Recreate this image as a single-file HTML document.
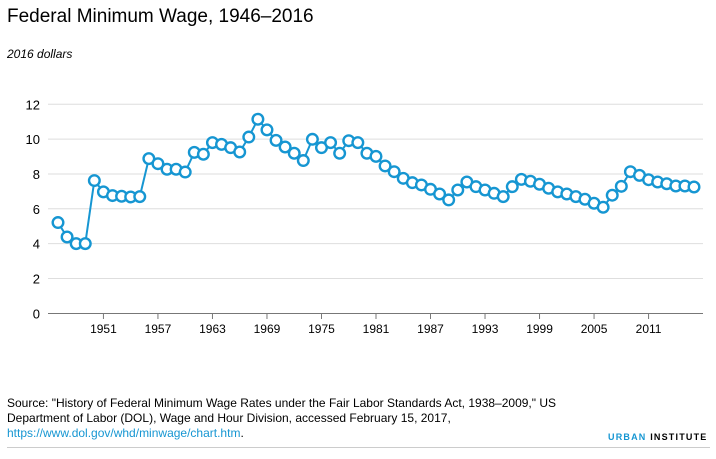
<!DOCTYPE html>
<html><head><meta charset="utf-8"><style>
body{margin:0;background:#fff;font-family:"Liberation Sans",sans-serif;}
#wrap{position:relative;width:716px;height:459px;overflow:hidden}
.t{position:absolute;white-space:nowrap}
</style></head><body>
<div id="wrap">
<div class="t" style="left:7px;top:6px;font-size:19px;color:#000">Federal Minimum Wage, 1946–2016</div>
<div class="t" style="left:7px;top:47px;font-size:12px;font-style:italic;color:#000">2016 dollars</div>
<svg id="chart" width="716" height="459" style="position:absolute;left:0;top:0"></svg>
<div class="t" style="left:7px;top:396px;font-size:12px;line-height:15px;color:#000;letter-spacing:0px">Source: "History of Federal Minimum Wage Rates under the Fair Labor Standards Act, 1938–2009," US<br>Department of Labor (DOL), Wage and Hour Division, accessed February 15, 2017,<br><a style="color:#1696d2;text-decoration:none">https://www.dol.gov/whd/minwage/chart.htm</a>.</div>
<div class="t" style="left:608px;top:432px;font-size:9px;font-weight:bold;letter-spacing:1.2px"><span style="color:#1696d2">URBAN</span> <span style="color:#000">INSTITUTE</span></div>
<div style="position:absolute;left:7px;top:447px;width:703px;height:1px;background:#ccc"></div>
</div>
<script>
const years=[];for(let y=1946;y<=2016;y++)years.push(y);
const wages=[5.21,4.38,4.0,4.0,7.62,6.97,6.76,6.72,6.68,6.70,8.88,8.59,8.27,8.27,8.11,9.24,9.13,9.80,9.70,9.51,9.26,10.12,11.14,10.53,9.93,9.55,9.19,8.77,9.99,9.51,9.80,9.19,9.91,9.80,9.19,9.01,8.46,8.13,7.75,7.50,7.37,7.12,6.85,6.51,7.08,7.54,7.27,7.08,6.89,6.70,7.27,7.69,7.58,7.41,7.18,6.97,6.85,6.70,6.55,6.32,6.09,6.78,7.29,8.13,7.92,7.67,7.54,7.44,7.31,7.31,7.25];
const yTicks=[0,2,4,6,8,10,12];
const xTicks=[1951,1957,1963,1969,1975,1981,1987,1993,1999,2005,2011];
const NS='http://www.w3.org/2000/svg';
const svg=document.getElementById('chart');
const x=v=>58+(v-1946)*(694-58)/70;
const y=v=>313.3-v*(313.3-104.3)/12;
function mk(t,a){const e=document.createElementNS(NS,t);for(const k in a)e.setAttribute(k,a[k]);svg.appendChild(e);return e;}
yTicks.forEach(v=>{
  if(v>0){const g=mk('line',{x1:48,x2:703,y1:y(v),y2:y(v),stroke:'#dedede','stroke-width':1});
  
  }
  const t=mk('text',{x:40,y:y(v)+5,'text-anchor':'end','font-size':13,fill:'#000','font-family':'Liberation Sans, sans-serif'});
  t.textContent=v;
  
  
});
const ax=mk('line',{x1:48,x2:703,y1:313.5,y2:313.5,stroke:'#777','stroke-width':1});


xTicks.forEach(v=>{
  const tk=mk('line',{x1:x(v),x2:x(v),y1:313.5,y2:319,stroke:'#777','stroke-width':1});
  
  
  const t=mk('text',{x:x(v),y:333,'text-anchor':'middle','font-size':12,fill:'#000','font-family':'Liberation Sans, sans-serif'});
  t.textContent=v;
  
  
});
const line=mk('polyline',{points:years.map((yr,i)=>x(yr)+','+y(wages[i])).join(' '),fill:'none',stroke:'#1696d2','stroke-width':2});


years.forEach((yr,i)=>{
  const c=mk('circle',{cx:x(yr),cy:y(wages[i]),r:5.3,fill:'#fff',stroke:'#1696d2','stroke-width':2.4});
  
  
});
</script>
</body></html>
